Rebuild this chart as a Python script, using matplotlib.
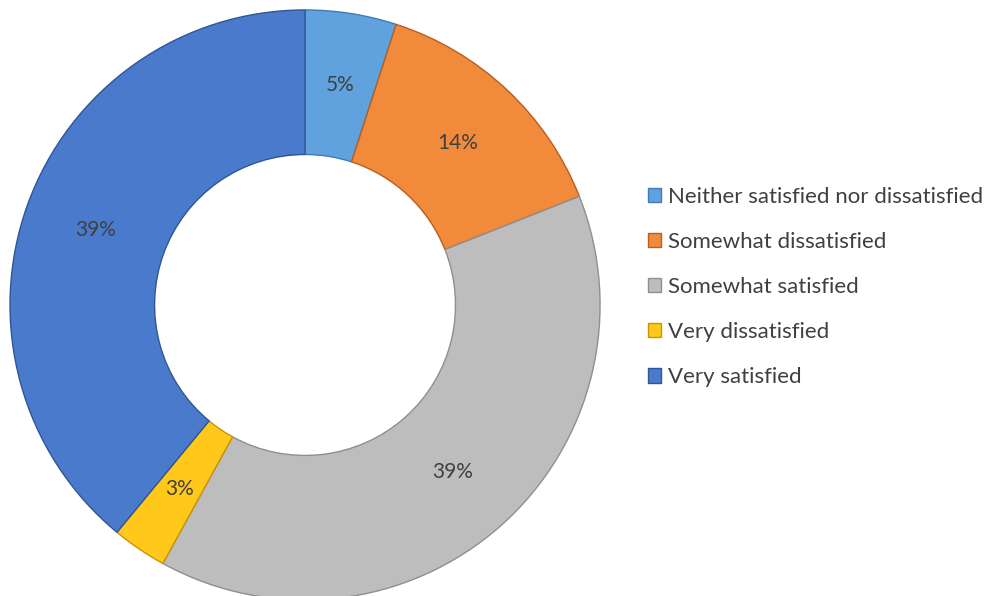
import matplotlib.pyplot as plt

# satisfaction survey shares, in pie order (clockwise from 12 o'clock)
labels = ['Neither satisfied nor dissatisfied', 'Somewhat dissatisfied',
          'Somewhat satisfied', 'Very dissatisfied', 'Very satisfied']
shares = [5, 14, 39, 3, 39]
colors = ['#5fa2de', '#f28a3c', '#bdbdbd', '#ffc81a', '#4a7acb']
edges = ['#3f7cb3', '#b85e1f', '#8f8f8f', '#c99400', '#2f5597']

plt.rcParams['font.family'] = ['Lato', 'DejaVu Sans']

fig = plt.figure(figsize=(9.92, 5.96), dpi=100)
ax = fig.add_axes([0.0101, -0.0067, 0.5948, 0.99])

wedges, texts, autotexts = ax.pie(
    shares, colors=colors, startangle=90, counterclock=False,
    radius=1.0, autopct='%1.0f%%', pctdistance=0.755,
    wedgeprops=dict(width=0.49, linewidth=1.0),
    textprops=dict(color='#404040', fontsize=15))
for w, ec in zip(wedges, edges):
    w.set_edgecolor(ec)
ax.set_xlim(-1, 1)
ax.set_ylim(-1, 1)
ax.set_aspect('equal')
ax.axis('off')

leg = fig.legend(wedges, labels, loc='upper left', bbox_to_anchor=(0.633, 0.72),
                 frameon=False, fontsize=16, handlelength=0.6, handleheight=0.6,
                 handletextpad=0.3, labelspacing=1.13, labelcolor='#404040')

fig.savefig('out.png', dpi=100)
